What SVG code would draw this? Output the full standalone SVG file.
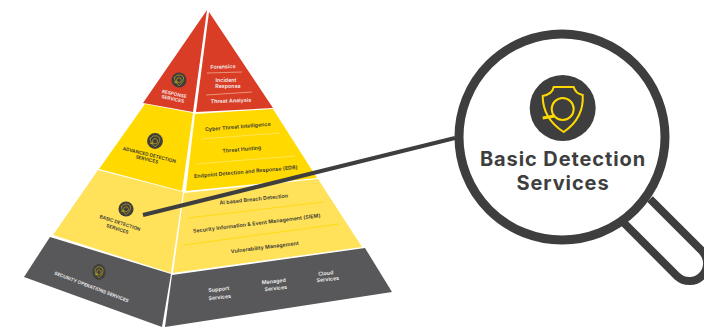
<svg xmlns="http://www.w3.org/2000/svg" width="704" height="327" viewBox="0 0 704 327">
<style>
text{font-family:"Inter","Liberation Sans",sans-serif;font-weight:600;text-anchor:middle}
.d{fill:#333}.w{fill:#f4f4f4}.s{font-size:5.2px;letter-spacing:.1px}.c{font-size:4.7px}.big{font-size:20px;fill:#3e3e3e;font-weight:700;letter-spacing:.9px}
.sep{fill:none;stroke-width:.8}
.ic{fill:#3e3e3e}.gl{fill:none;stroke:#ffd900}
</style>
<defs>
<g id="icon"><circle r="33" class="ic"/><path class="gl" stroke-width="2" d="M-9-21H11C12-17 15-14 20-13 21 2 14 15 1 24-13 15-20 2-20-12-15-13-10-16-9-21Z"/><circle cx="0" cy="1" r="11" class="gl" stroke-width="2"/><path class="gl" stroke-width="3" d="M-8 8-20 10"/></g>
</defs>
<g id="response"><polygon fill="#d93d26" points="207,10 193,112 143,103"/><polygon fill="#d93d26" points="209,12 273,108 196,112"/>
<use href="#icon" transform="translate(179 80) scale(.23)"/>
<text class="w c" transform="translate(174 95.500) rotate(12)">RESPONSE</text><text class="w c" transform="translate(172.500 100.500) rotate(12)">SERVICES</text>
<text class="w s" transform="translate(223 68.500) rotate(-2)">Forensics</text>
<text class="w s" transform="translate(226 81.500)">Incident</text><text class="w s" transform="translate(228 88)">Response</text>
<text class="w s" transform="translate(231 102.500) rotate(-2)">Threat Analysis</text>
<path class="sep" stroke="#f0a78f" d="M207 73 242 72M206 95 252 92"/></g>
<g id="advanced"><polygon fill="#ffd900" points="145,104 193,113 182,191 99,169"/><polygon fill="#ffd900" points="195,114 273,109 317,178 186,191"/>
<use href="#icon" transform="translate(155 141) scale(.24)"/>
<text class="d c" transform="translate(149 156.500) rotate(14)">ADVANCED DETECTION</text><text class="d c" transform="translate(146.500 161) rotate(14)">SERVICES</text>
<text class="d s" transform="translate(238 128.500) rotate(-5)">Cyber Threat Intelligence</text>
<text class="d s" transform="translate(242 151) rotate(-5)">Threat Hunting</text>
<text class="d s" transform="translate(246 173.500) rotate(-5)">Endpoint Detection and Response (EDR)</text>
<path class="sep" stroke="#ffe96a" d="M201 139 280 133M196 164 295 156"/></g>
<g id="basic"><polygon fill="#ffe15a" points="98,170 183,192 171,273 53,235"/><polygon fill="#ffe15a" points="184,193 318,179 362,247 173,273"/>
<use href="#icon" transform="translate(126 209) scale(.23)"/>
<text class="d c" transform="translate(119.500 224.500) rotate(18)">BASIC DETECTION</text><text class="d c" transform="translate(117 230.500) rotate(18)">SERVICES</text>
<text class="d s" transform="translate(254 201) rotate(-6)">AI based Breach Detection</text>
<text class="d s" transform="translate(257 225) rotate(-7)">Security Information &amp; Event Management (SIEM)</text>
<text class="d s" transform="translate(265 249) rotate(-7)">Vulnerability Management</text>
<path class="sep" stroke="#ffd900" d="M188 218 323 202M184 245 339 224"/></g>
<g id="operations"><polygon fill="#58585a" points="50,237 171,274 162,327 24,277"/><polygon fill="#58585a" points="172,275 365,248 392,292 165,327"/>
<use href="#icon" transform="translate(99 272) scale(.2 .24)"/>
<text class="w c" transform="translate(91 288.500) rotate(20.700)">SECURITY OPERATIONS SERVICES</text>
<text class="w s" transform="translate(219 291) rotate(-6)">Support</text><text class="w s" transform="translate(220 299) rotate(-6)">Services</text>
<text class="w s" transform="translate(274 283) rotate(-6)">Managed</text><text class="w s" transform="translate(276 290) rotate(-6)">Services</text>
<text class="w s" transform="translate(326 275) rotate(-6)">Cloud</text><text class="w s" transform="translate(328 281) rotate(-6)">Services</text></g>
<g id="connectors"><path fill="none" stroke="#3e3e3e" stroke-width="4" d="M143 215 455 138"/></g>
<g id="magnifier">
<path fill="#fff" stroke="#3e3e3e" stroke-width="8" d="M650 199 702.500 251.500A17.700 17.700 0 0 1 677.500 276.500L624 223"/>
<circle cx="562" cy="137" r="103" fill="#fff" stroke="#3e3e3e" stroke-width="9"/>
<use href="#icon" transform="translate(562.700 108)"/>
<text class="big" x="563" y="166">Basic Detection</text><text class="big" x="563" y="190">Services</text></g>
</svg>
